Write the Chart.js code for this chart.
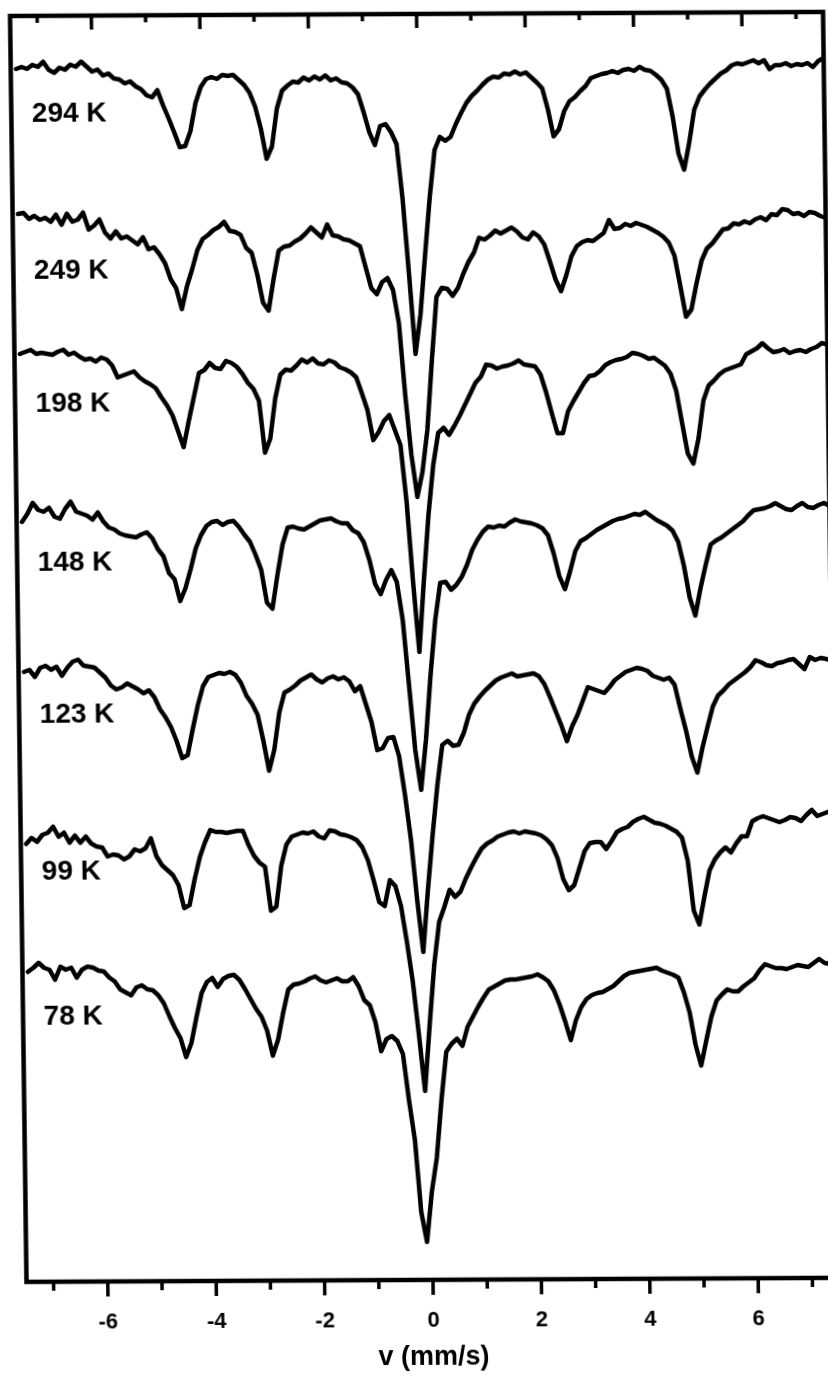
<!DOCTYPE html>
<html>
<head>
<meta charset="utf-8">
<title>Mössbauer spectra</title>
<script src="https://cdn.jsdelivr.net/npm/chart.js@4.4.1/dist/chart.umd.min.js"></script>
<style>
  html, body { margin: 0; padding: 0; background: #fff; overflow: hidden; }
  /* the scanned figure sits slightly sheared on the page */
  #spectra { display: block; transform-origin: 26px 1282px; transform: matrix(1, -0.005, 0.013, 1, 0, 0); }
</style>
</head>
<body>
<canvas id="spectra" width="860" height="1378"></canvas>
<script>
'use strict';

// channel velocities (mm/s)
var velocity = [
  -7.4, -7.3, -7.2, -7.1, -7.0, -6.9, -6.8, -6.7, -6.6, -6.5,
  -6.4, -6.3, -6.2, -6.1, -6.0, -5.9, -5.8, -5.7, -5.6, -5.5,
  -5.4, -5.3, -5.2, -5.1, -5.0, -4.9, -4.8, -4.7, -4.6, -4.5,
  -4.4, -4.3, -4.2, -4.1, -4.0, -3.9, -3.8, -3.7, -3.6, -3.5,
  -3.4, -3.3, -3.2, -3.1, -3.0, -2.9, -2.8, -2.7, -2.6, -2.5,
  -2.4, -2.3, -2.2, -2.1, -2.0, -1.9, -1.8, -1.7, -1.6, -1.5,
  -1.4, -1.3, -1.2, -1.1, -1.0, -0.9, -0.8, -0.7, -0.6, -0.5,
  -0.4, -0.3, -0.2, -0.1, 0.0, 0.1, 0.2, 0.3, 0.4, 0.5,
  0.6, 0.7, 0.8, 0.9, 1.0, 1.1, 1.2, 1.3, 1.4, 1.5,
  1.6, 1.7, 1.8, 1.9, 2.0, 2.1, 2.2, 2.3, 2.4, 2.5,
  2.6, 2.7, 2.8, 2.9, 3.0, 3.1, 3.2, 3.3, 3.4, 3.5,
  3.6, 3.7, 3.8, 3.9, 4.0, 4.1, 4.2, 4.3, 4.4, 4.5,
  4.6, 4.7, 4.8, 4.9, 5.0, 5.1, 5.2, 5.3, 5.4, 5.5,
  5.6, 5.7, 5.8, 5.9, 6.0, 6.1, 6.2, 6.3, 6.4, 6.5,
  6.6, 6.7, 6.8, 6.9, 7.0, 7.1, 7.2, 7.3, 7.4, 7.5
];

// tick positions on the velocity axis; even ones carry a label
var velocityTicks = [-7, -6, -5, -4, -3, -2, -1, 0, 1, 2, 3, 4, 5, 6, 7];

var temperatures = ['294 K', '249 K', '198 K', '148 K', '123 K', '99 K', '78 K'];

// stacked transmission, one array per temperature (already offset)
var t294 = [
  121.3, 121.5, 121.3, 121.7, 121.5, 122.0, 121.2, 120.9, 121.4, 121.2,
  121.7, 121.5, 122.0, 121.5, 121.0, 121.2, 120.6, 120.8, 120.3, 120.2,
  119.8, 120.0, 119.5, 119.2, 118.6, 118.4, 119.1, 117.6, 116.3, 114.9,
  113.4, 113.5, 115.0, 117.8, 119.4, 120.2, 120.4, 120.2, 120.6, 120.5,
  120.6, 120.1, 119.6, 118.8, 117.4, 115.2, 112.2, 113.4, 117.2, 119.0,
  119.5, 119.9, 119.8, 120.3, 120.0, 120.4, 120.1, 120.5, 120.0, 120.2,
  119.8, 119.7, 119.3, 118.6, 116.8, 114.8, 113.5, 115.4, 115.6, 114.8,
  113.6, 108.0, 100.5, 92.6, 96.5, 102.5, 108.3, 113.0, 114.3, 113.9,
  114.3, 115.6, 116.7, 117.7, 118.4, 118.9, 119.5, 120.0, 120.3, 120.2,
  120.6, 120.5, 120.8, 120.5, 120.7, 120.2, 119.7, 119.1, 117.0, 114.3,
  115.0, 116.8, 117.8, 118.2, 118.8, 119.3, 120.1, 120.3, 120.5, 120.6,
  120.8, 120.6, 120.9, 121.0, 120.8, 121.2, 120.9, 120.8, 120.4, 119.9,
  119.0, 116.2, 112.5, 110.9, 113.6, 116.9, 118.2, 118.9, 119.5, 120.0,
  120.5, 120.8, 121.3, 121.5, 121.4, 121.6, 121.8, 121.5, 121.8, 120.9,
  121.3, 121.3, 121.5, 121.2, 121.4, 121.3, 121.5, 121.1, 121.7, 122.0
];
var t249 = [
  106.8, 106.9, 106.3, 106.6, 106.2, 106.4, 106.0, 106.7, 105.7, 106.8,
  106.0, 106.2, 106.9, 105.2, 105.6, 106.2, 104.9, 104.3, 105.0, 104.3,
  104.5, 104.1, 103.7, 104.4, 103.2, 103.4, 102.7, 101.8, 100.2, 99.3,
  97.2, 99.5, 101.2, 103.1, 104.2, 104.6, 105.1, 105.4, 105.9, 105.0,
  104.9, 104.6, 103.3, 102.8, 100.6, 97.8, 97.0, 100.2, 103.0, 103.4,
  103.5, 103.9, 104.2, 104.7, 105.3, 104.8, 104.3, 105.6, 104.5, 104.4,
  104.1, 104.0, 103.7, 103.4, 101.3, 99.2, 98.6, 99.8, 100.2, 99.0,
  95.7, 88.5, 82.5, 78.3, 80.8, 85.0, 92.0, 98.3, 99.2, 99.1,
  98.4, 99.2, 100.6, 101.8, 102.7, 104.2, 104.0, 104.4, 104.9, 104.6,
  104.9, 105.2, 104.8, 104.2, 104.0, 104.7, 104.3, 103.5, 101.8, 100.0,
  98.8, 100.4, 102.3, 103.3, 103.7, 103.9, 103.8, 104.2, 104.6, 105.9,
  105.0, 105.1, 105.5, 105.3, 105.6, 105.4, 105.2, 104.9, 104.6, 104.2,
  103.6, 102.3, 99.3, 96.2, 96.9, 99.5, 101.8, 103.0, 103.5, 104.2,
  104.9, 105.0, 105.5, 105.4, 105.7, 105.5, 105.9, 106.1, 105.8, 106.4,
  106.3, 106.9, 106.8, 106.4, 106.5, 106.2, 106.6, 106.5, 106.2, 106.0
];
var t198 = [
  92.8, 93.0, 93.2, 92.8, 92.9, 92.8, 92.7, 93.0, 93.2, 92.7,
  92.9, 92.5, 92.2, 92.3, 92.0, 92.4, 92.2, 91.6, 90.4, 90.6,
  90.8, 91.0, 90.4, 90.0, 89.7, 89.3, 88.4, 87.6, 86.6, 85.0,
  83.4, 86.0, 88.4, 90.8, 91.1, 91.8, 91.3, 91.2, 92.0, 91.8,
  91.4, 90.7, 89.8, 89.2, 88.0, 82.8, 84.2, 88.2, 90.6, 91.1,
  91.0, 91.5, 92.1, 91.8, 92.2, 91.7, 91.6, 92.0, 91.8, 91.3,
  91.1, 90.8, 90.3, 88.7, 87.0, 84.0, 84.8, 85.9, 86.5, 85.0,
  83.5, 77.8, 69.8, 62.8, 70.0, 76.5, 81.5, 84.7, 85.2, 84.5,
  85.4, 86.4, 87.5, 88.6, 89.7, 90.3, 91.5, 91.4, 91.1, 91.3,
  91.4, 91.6, 91.9, 91.5, 91.4, 91.3, 90.5, 88.7, 86.6, 84.6,
  84.6, 86.8, 87.8, 88.7, 89.6, 90.3, 90.4, 90.8, 91.4, 91.7,
  91.9, 92.0, 92.2, 92.6, 92.5, 92.3, 92.0, 92.1, 91.7, 91.3,
  90.5, 88.8, 85.6, 82.5, 81.5, 84.0, 87.8, 89.3, 89.8, 90.4,
  90.8, 91.0, 91.2, 91.4, 92.4, 92.7, 93.0, 93.5, 93.0, 92.6,
  92.7, 92.9, 92.5, 92.7, 92.8, 92.6, 92.9, 93.1, 93.5, 93.3
];
var t148 = [
  76.0, 76.8, 77.9, 77.2, 77.0, 77.4, 76.5, 76.3, 77.3, 78.0,
  77.0, 76.8, 76.6, 76.2, 76.9, 76.0, 75.4, 75.2, 74.8, 74.6,
  74.5, 74.4, 74.7, 74.9, 74.3, 73.2, 72.5, 70.8, 70.2, 68.0,
  69.3, 71.2, 73.3, 74.6, 75.5, 75.9, 76.0, 75.6, 75.9, 76.0,
  75.4, 74.6, 73.9, 72.6, 71.1, 67.8, 67.2, 70.6, 73.6, 75.3,
  75.4, 75.2, 75.1, 75.4, 75.7, 76.0, 76.1, 76.2, 75.9, 75.7,
  75.7, 75.0, 74.7, 73.8, 72.0, 69.6, 68.6, 70.0, 71.0, 69.8,
  66.0, 59.5, 53.0, 49.0, 54.0, 60.5, 66.0, 69.7, 69.8, 69.0,
  69.5, 70.3, 71.5, 73.0, 74.0, 74.8, 75.3, 75.2, 75.4, 75.3,
  75.7, 76.0, 75.8, 75.7, 75.6, 75.4, 75.1, 74.4, 72.6, 70.3,
  69.0, 70.8, 72.8, 73.8, 74.1, 74.5, 74.9, 75.2, 75.5, 75.8,
  76.0, 76.1, 76.3, 76.5, 76.4, 76.7, 76.3, 75.9, 75.6, 75.3,
  74.8, 73.7, 71.3, 68.1, 66.3, 69.0, 71.3, 73.4, 73.8, 74.1,
  74.5, 74.9, 75.3, 75.7, 76.3, 76.8, 76.9, 77.0, 77.2, 77.5,
  77.2, 76.9, 76.8, 77.2, 77.5, 77.1, 77.0, 77.3, 77.5, 77.2
];
var t123 = [
  61.0, 61.2, 60.5, 61.4, 61.6, 61.2, 61.5, 60.6, 61.4, 62.0,
  62.2, 61.6, 61.5, 61.4, 60.9, 60.4, 59.6, 59.2, 59.4, 59.8,
  59.5, 59.2, 58.8, 59.1, 58.4, 57.2, 56.4, 55.4, 54.0, 52.3,
  52.6, 55.2, 57.6, 59.5, 60.4, 60.6, 60.8, 60.7, 60.9, 60.6,
  59.8, 58.5, 57.7, 56.6, 54.0, 51.0, 53.1, 56.8, 58.8, 59.1,
  59.5, 60.0, 60.3, 60.6, 60.1, 59.8, 60.2, 60.4, 60.1, 60.3,
  59.9, 58.9, 59.4, 57.6, 55.8, 53.0, 53.2, 54.2, 54.3, 52.4,
  48.5, 44.0, 38.0, 32.8, 39.0, 44.5, 49.5, 53.5, 53.9, 53.4,
  53.5, 54.7, 56.5, 57.6, 58.3, 58.9, 59.4, 59.9, 60.2, 60.4,
  60.6, 60.3, 60.4, 60.5, 60.6, 60.3, 59.5, 58.2, 56.8, 55.4,
  53.8, 55.3, 56.4, 57.8, 59.2, 59.0, 58.8, 58.6, 59.2, 59.9,
  60.3, 60.7, 60.9, 61.1, 61.0, 60.8, 60.3, 60.1, 59.9, 60.1,
  59.4, 57.0, 54.8, 52.2, 50.6, 53.1, 55.2, 57.2, 58.3, 58.8,
  59.4, 59.8, 60.2, 60.6, 61.1, 61.8, 61.6, 61.3, 61.2, 61.5,
  61.6, 61.8, 61.9, 61.4, 60.9, 62.1, 61.8, 62.0, 61.9, 61.7
];
var t99 = [
  43.8, 44.4, 44.0, 44.7, 44.9, 45.5, 44.5, 44.9, 43.9, 44.6,
  43.9, 44.5, 43.8, 43.5, 43.4, 42.5, 42.7, 42.6, 42.2, 42.5,
  43.2, 43.0, 43.3, 44.3, 42.5, 41.6, 41.1, 40.6, 39.6, 37.3,
  37.6, 40.2, 42.4, 43.9, 45.1, 44.9, 44.9, 44.8, 44.9, 45.0,
  45.0, 43.6, 42.5, 41.8, 41.4, 37.0, 37.4, 41.5, 43.6, 44.4,
  44.6, 44.8, 44.7, 44.9, 44.4, 44.2, 45.0, 44.9, 44.6, 44.5,
  44.3, 44.0, 43.3, 42.0, 40.0, 37.8, 37.4, 40.0, 39.4, 37.4,
  33.8, 29.8, 24.5, 18.9, 25.5, 31.6, 35.8, 37.3, 39.0, 38.3,
  38.8, 40.1, 41.2, 42.2, 43.1, 43.6, 43.9, 44.3, 44.5, 44.7,
  44.8, 44.6, 44.8, 44.7, 44.6, 44.4, 44.0, 43.4, 42.1, 40.0,
  38.9, 39.4, 41.1, 42.8, 43.6, 43.7, 43.7, 43.0, 43.8, 44.7,
  45.0, 45.2, 45.7, 46.0, 46.2, 45.9, 45.6, 45.5, 45.3, 45.0,
  44.7, 44.1, 41.8, 36.8, 35.4, 38.2, 40.8, 41.9, 42.6, 43.1,
  42.6, 43.5, 44.2, 44.2, 45.7, 46.0, 46.2, 46.0, 45.8, 45.6,
  45.8, 46.1, 46.0, 45.7, 46.3, 46.8, 46.2, 46.4, 46.6, 46.4
];
var t78 = [
  31.0, 31.4, 31.9, 31.4, 31.2, 30.2, 31.5, 31.2, 31.4, 30.4,
  31.2, 31.5, 31.4, 31.1, 31.0, 30.4, 30.0, 29.2, 28.9, 28.6,
  29.4, 29.6, 29.2, 29.1, 28.6, 27.8, 26.5, 25.3, 24.3, 22.4,
  23.8, 26.4, 28.8, 29.9, 30.3, 29.4, 30.2, 30.5, 30.6, 30.1,
  29.2, 28.2, 27.2, 26.4, 25.0, 22.5, 24.1, 26.8, 29.1, 29.6,
  29.7, 29.9, 30.2, 30.4, 30.0, 29.8, 30.0, 30.2, 29.9, 29.9,
  30.3, 29.4, 28.0, 27.5, 25.8, 22.9, 24.1, 24.4, 23.9, 22.6,
  18.0, 14.0, 6.8, 3.8, 8.8, 12.2, 18.0, 22.8, 23.6, 24.1,
  23.4, 25.3, 26.3, 27.3, 28.2, 29.0, 29.3, 29.6, 29.9, 30.0,
  30.0, 30.1, 30.2, 30.3, 30.5, 30.2, 29.8, 28.9, 27.5, 25.8,
  23.9, 25.9, 27.2, 28.0, 28.4, 28.6, 28.7, 29.0, 29.3, 29.8,
  30.3, 30.6, 30.7, 30.8, 30.9, 31.0, 31.1, 30.8, 30.6, 30.4,
  30.1, 28.6, 26.6, 23.4, 21.3, 23.8, 26.2, 27.8, 28.4, 28.9,
  28.7, 28.7, 29.2, 29.6, 30.0, 30.8, 31.4, 31.2, 31.0, 31.0,
  30.9, 31.1, 31.3, 31.2, 31.1, 31.5, 31.9, 31.5, 31.4, 31.6
];

var spectra = [t294, t249, t198, t148, t123, t99, t78];

var FONT = '"Liberation Sans", Arial, Helvetica, sans-serif';

// where the temperature captions sit (x in mm/s, y in axis units)
var captionVelocity = -7.12;
var captionLevels = [116.8, 101.1, 87.8, 71.9, 56.7, 41.0, 26.5];

/**
 * Draws the box, the in/out tick marks and the temperature captions.
 */
var framePlugin = {
    id: 'frame',
    afterDraw: function (chart) {
        var ctx = chart.ctx;
        var area = chart.chartArea;
        var xScale = chart.scales.x;
        var yScale = chart.scales.y;

        ctx.save();
        ctx.strokeStyle = '#000';
        ctx.lineWidth = 4.5;
        ctx.strokeRect(area.left, area.top, area.right - area.left, area.bottom - area.top);

        // majors on even velocities, minors on odd ones
        ctx.lineWidth = 3.5;
        xScale.ticks.forEach(function (tick) {
            var px = xScale.getPixelForValue(tick.value);
            var major = tick.value % 2 === 0;
            ctx.beginPath();
            ctx.moveTo(px, area.bottom);
            ctx.lineTo(px, area.bottom + (major ? 15 : 9));
            ctx.moveTo(px, area.top);
            ctx.lineTo(px, area.top + (major ? 14 : 7));
            ctx.stroke();
        });

        ctx.fillStyle = '#000';
        ctx.font = 'bold 28px ' + FONT;
        ctx.textAlign = 'left';
        ctx.textBaseline = 'middle';
        temperatures.forEach(function (label, i) {
            ctx.fillText(label, xScale.getPixelForValue(captionVelocity), yScale.getPixelForValue(captionLevels[i]));
        });
        ctx.restore();
    }
};

var datasets = spectra.map(function (series, i) {
    return {
        label: temperatures[i],
        data: velocity.map(function (v, j) { return { x: v, y: series[j] }; }),
        borderColor: '#000',
        borderWidth: 4.5,
        borderJoinStyle: 'round',
        borderCapStyle: 'round',
        pointRadius: 0,
        fill: false,
        tension: 0
    };
});

new Chart(document.getElementById('spectra').getContext('2d'), {
    type: 'line',
    data: { datasets: datasets },
    options: {
        responsive: false,
        animation: false,
        devicePixelRatio: 1,
        layout: { padding: { left: 26.5, right: 20.5, top: 16, bottom: 0 } },
        plugins: {
            legend: { display: false },
            tooltip: { enabled: false }
        },
        scales: {
            x: {
                type: 'linear',
                position: 'bottom',
                min: -7.5,
                max: 7.5,
                grid: { display: false },
                border: { display: false },
                ticks: {
                    autoSkip: false,
                    maxRotation: 0,
                    padding: 20,
                    color: '#000',
                    font: { family: FONT, size: 22, weight: 'bold' },
                    callback: function (value) {
                        return value % 2 === 0 ? String(value) : '';
                    }
                },
                afterBuildTicks: function (scale) {
                    scale.ticks = velocityTicks.map(function (v) { return { value: v }; });
                },
                title: {
                    display: true,
                    text: 'v (mm/s)',
                    color: '#000',
                    font: { family: FONT, size: 27, weight: 'bold' },
                    padding: { top: 0, bottom: 2 }
                },
                afterFit: function (scale) {
                    scale.height = 96;
                }
            },
            y: {
                display: false,
                min: 0,
                max: 126.6
            }
        }
    },
    plugins: [framePlugin]
});
</script>
</body>
</html>
